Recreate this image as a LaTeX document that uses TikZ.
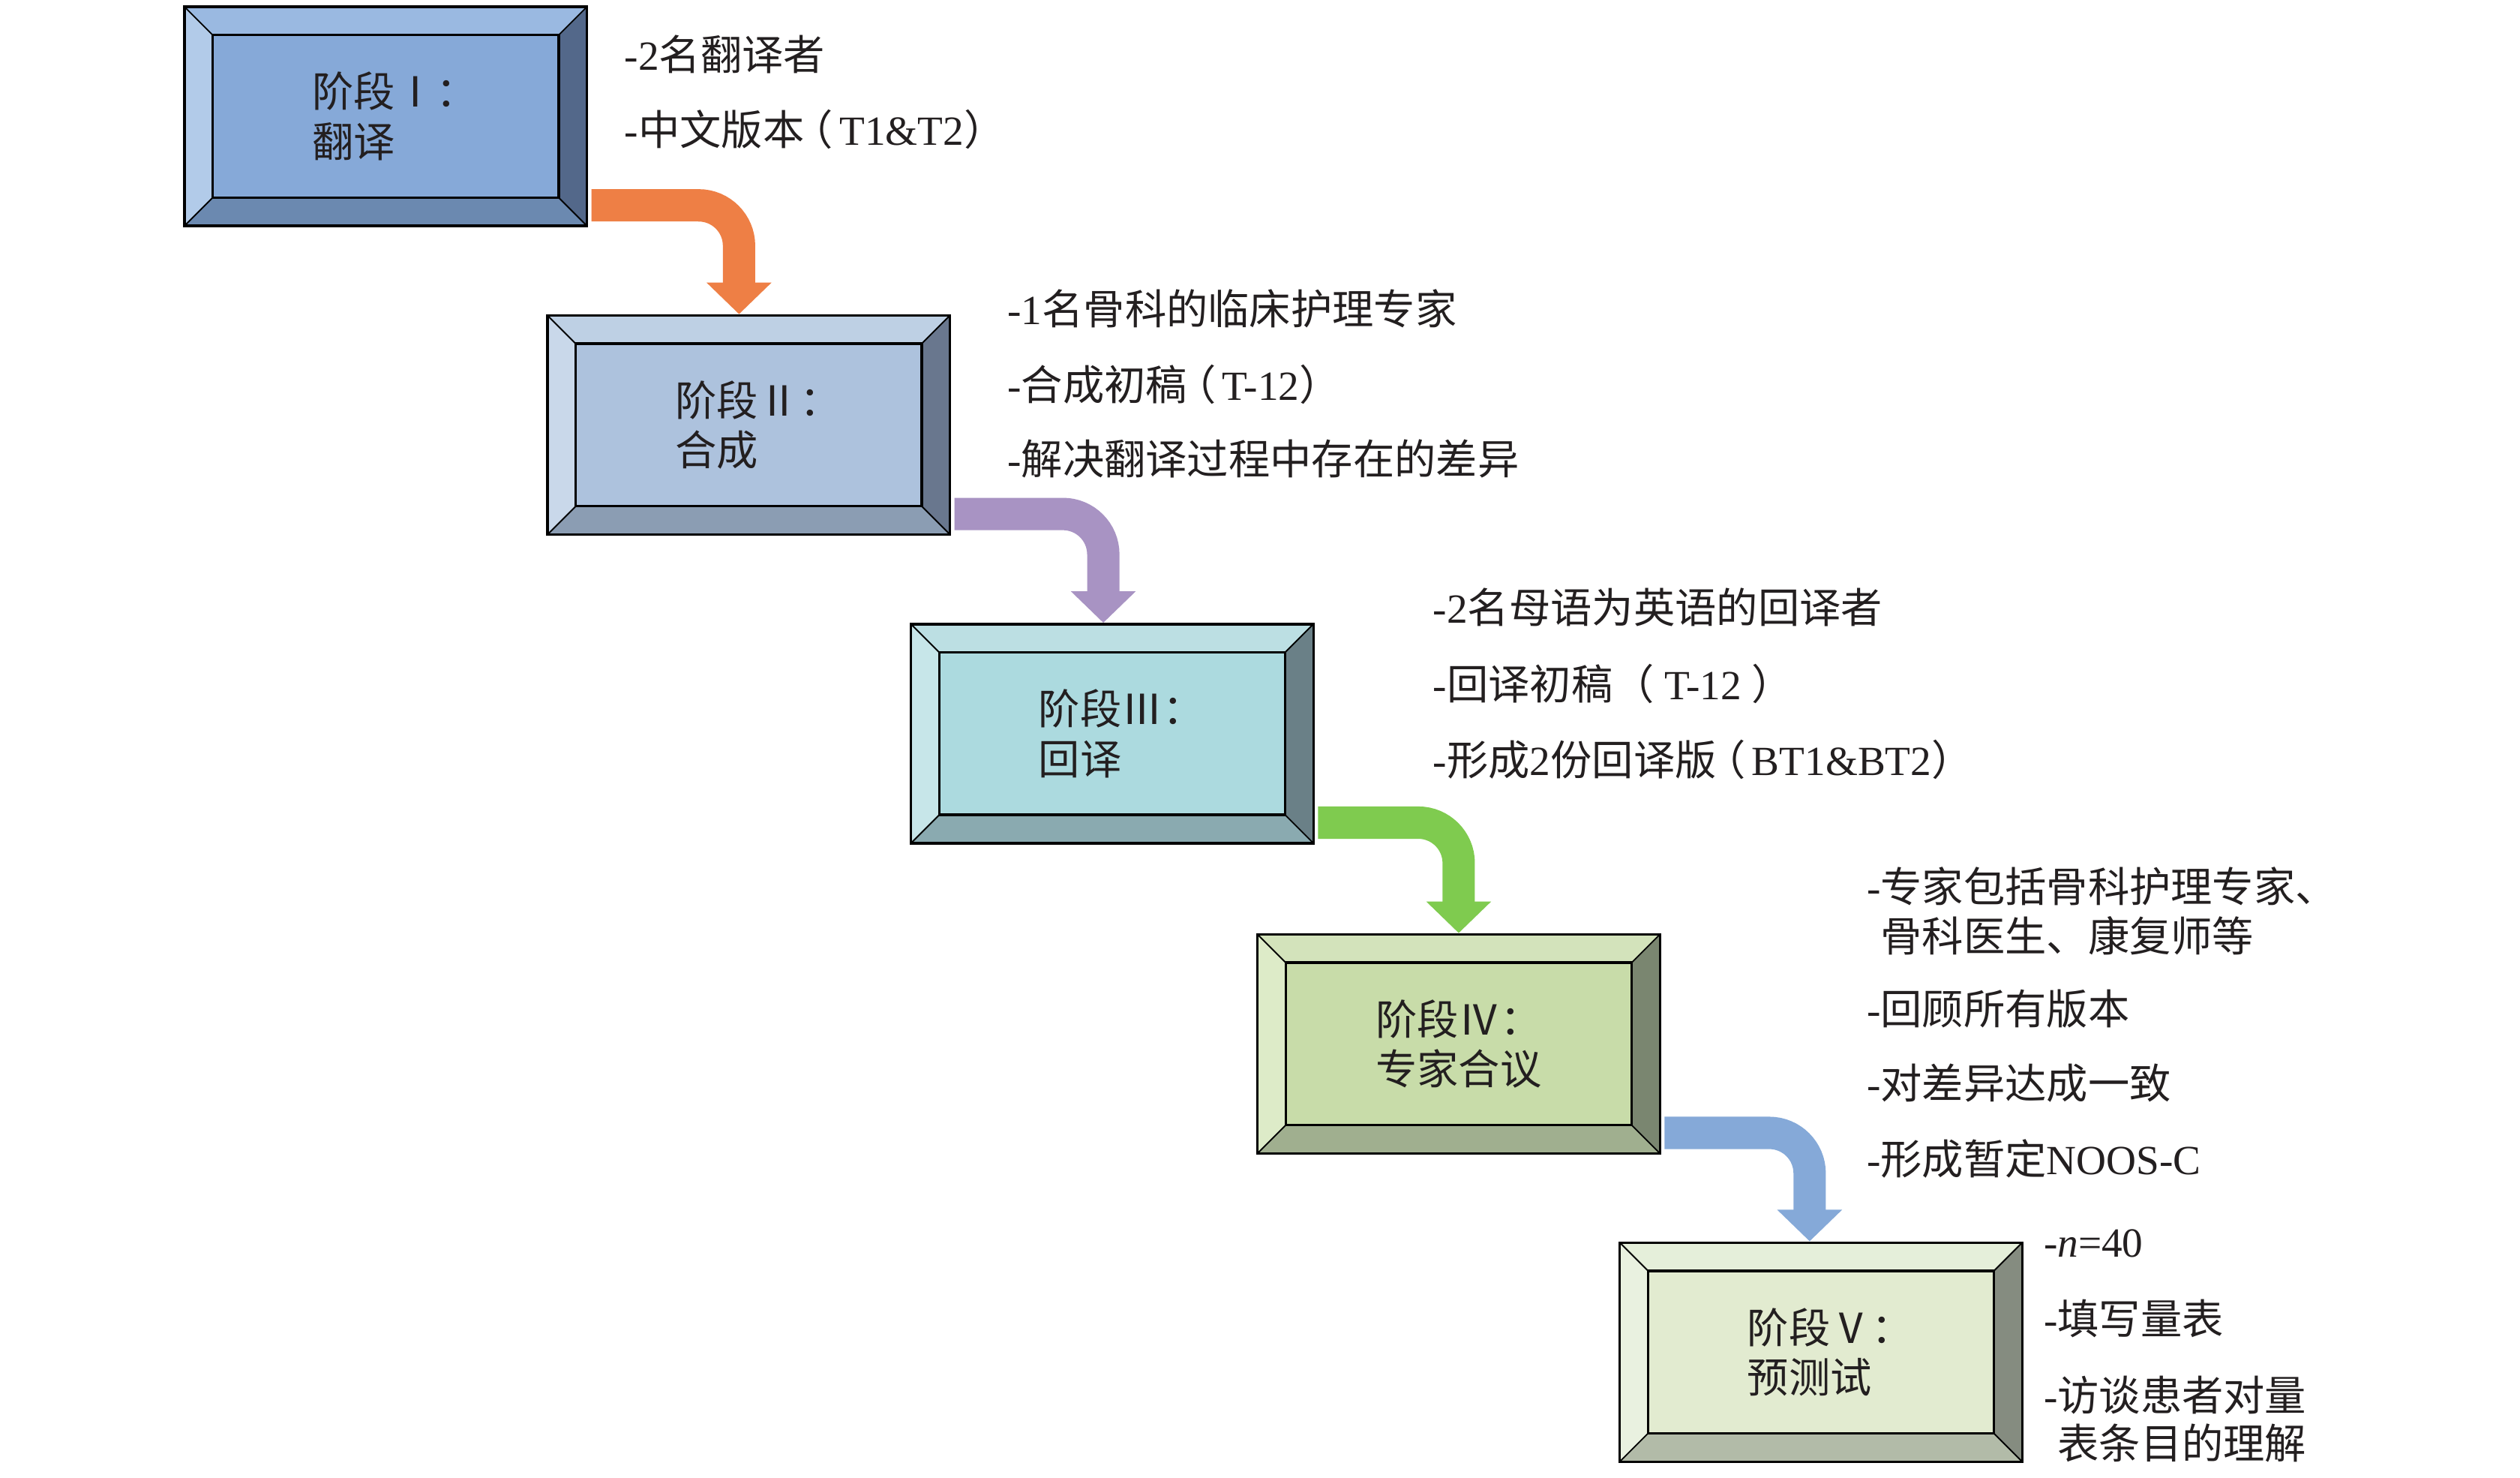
\documentclass[tikz,border=0pt]{standalone}
\usepackage{fontspec}
\setmainfont{Liberation Serif}
\newfontfamily\cjk{Noto Sans CJK SC}
\newcommand{\zh}[1]{{\cjk #1}}
\newcommand{\lp}{\kern-0.3em\zh{（}\kern0.15em}
\newcommand{\rp}{\zh{）}}
\usetikzlibrary{arrows.meta}

\definecolor{ink}{HTML}{231F20}
% stage colours: face, top, left, right, bottom
\definecolor{s1face}{HTML}{86A9D8}\definecolor{s1top}{HTML}{9AB9E1}\definecolor{s1lt}{HTML}{B2CBE9}\definecolor{s1rt}{HTML}{53688A}\definecolor{s1bot}{HTML}{6B89B0}
\definecolor{s2face}{HTML}{ADC2DD}\definecolor{s2top}{HTML}{BED0E4}\definecolor{s2lt}{HTML}{C9D8EA}\definecolor{s2rt}{HTML}{69778E}\definecolor{s2bot}{HTML}{8B9DB3}
\definecolor{s3face}{HTML}{ACDADF}\definecolor{s3top}{HTML}{BCDFE3}\definecolor{s3lt}{HTML}{C7E6E9}\definecolor{s3rt}{HTML}{6A8087}\definecolor{s3bot}{HTML}{8AAAB0}
\definecolor{s4face}{HTML}{C8DCA9}\definecolor{s4top}{HTML}{D3E3BB}\definecolor{s4lt}{HTML}{DDEBC8}\definecolor{s4rt}{HTML}{7A8670}\definecolor{s4bot}{HTML}{A0AF8F}
\definecolor{s5face}{HTML}{E2EBD0}\definecolor{s5top}{HTML}{E5EFDA}\definecolor{s5lt}{HTML}{E9F1E0}\definecolor{s5rt}{HTML}{858C80}\definecolor{s5bot}{HTML}{B2BBA8}
% arrows
\definecolor{a1}{HTML}{EE7F45}
\definecolor{a2}{HTML}{A893C3}
\definecolor{a3}{HTML}{7FCB4F}
\definecolor{a4}{HTML}{85A9D8}

\begin{document}
\begin{tikzpicture}[
		x=0.01cm, y=-0.01cm,
		every node/.style={font=\fontsize{7.3}{8.8}\selectfont, text=ink},
		stagebox/.style={draw=black, line width=0.45pt, fill=s#1face,
			minimum width=2.49cm, minimum height=1.355cm, inner sep=0pt, align=left,
			path picture={
				\coordinate (nw) at (path picture bounding box.north west);
				\coordinate (ne) at (path picture bounding box.north east);
				\coordinate (se) at (path picture bounding box.south east);
				\coordinate (sw) at (path picture bounding box.south west);
				\coordinate (inw) at ([shift={(17.5,17.5)}]nw);
				\coordinate (ine) at ([shift={(-17.5,17.5)}]ne);
				\coordinate (ise) at ([shift={(-17.5,-17.5)}]se);
				\coordinate (isw) at ([shift={(17.5,-17.5)}]sw);
				\fill[s#1top] (nw) -- (ne) -- (ine) -- (inw) -- cycle;
				\fill[s#1rt] (ne) -- (se) -- (ise) -- (ine) -- cycle;
				\fill[s#1bot] (se) -- (sw) -- (isw) -- (ise) -- cycle;
				\fill[s#1lt] (sw) -- (nw) -- (inw) -- (isw) -- cycle;
				\draw[line width=0.25pt] (nw) -- (inw) (ne) -- (ine) (se) -- (ise) (sw) -- (isw);
				\draw[line width=0.45pt] (inw) rectangle (ise);
			}},
		note/.style={anchor=base west, inner sep=0pt},
		flow/.style={line width=0.2cm, rounded corners=0.25cm, -{Triangle[width=0.39cm,length=0.195cm]}},
	]
	\path[use as bounding box, fill=white] (0,0) rectangle (1560,914.2);
	
	% stages
	\node[stagebox=1] (s1) at (238.75,72) {\hspace*{0.45em}\zh{阶段Ⅰ：}\\\hspace*{0.45em}\zh{翻译}};
	\node[stagebox=2] (s2) at (463.5,263) {\hspace*{0.45em}\zh{阶段Ⅱ：}\\\hspace*{0.45em}\zh{合成}};
	\node[stagebox=3] (s3) at (688.5,454) {\hspace*{0.45em}\zh{阶段Ⅲ：}\\\hspace*{0.45em}\zh{回译}};
	\node[stagebox=4] (s4) at (903,646) {\zh{阶段Ⅳ：}\\\zh{专家合议}};
	\node[stagebox=5] (s5) at (1127.25,836.75) {\hspace*{0.45em}\zh{阶段Ⅴ：}\\\hspace*{0.45em}\zh{预测试}};
	
	% flow between stages
	\draw[flow, color=a1] ([shift={(2,-13.5)}]s1.south east) -| ([shift={(-6,0)}]s2.north);
	\draw[flow, color=a2] ([shift={(2,-13.5)}]s2.south east) -| ([shift={(-5.5,0)}]s3.north);
	\draw[flow, color=a3] ([shift={(2,-13.5)}]s3.south east) -| (s4.north);
	\draw[flow, color=a4] ([shift={(2,-13.5)}]s4.south east) -| ([shift={(-7,0)}]s5.north);
	
	% notes
	\node[note] (t11) at (386,43.4) {-2\zh{名翻译者}};
	\node[note] (t12) at (386,89.8) {-\zh{中文版本}\lp T1\&T2\rp};
	
	\node[note] (t21) at (623,200.8) {-1\zh{名骨科的临床护理专家}};
	\node[note] (t22) at (623,247.5) {-\zh{合成初稿}\lp T-12\rp};
	\node[note] (t23) at (623,293.8) {-\zh{解决翻译过程中存在的差异}};
	
	\node[note] (t31) at (886.5,385.8) {-2\zh{名母语为英语的回译者}};
	\node[note] (t32) at (886.5,432.8) {-\zh{回译初稿（} T-12 \zh{）}};
	\node[note] (t33) at (886.5,479.8) {-\zh{形成}2\zh{份回译版}\lp BT1\&BT2\rp};
	
	\node[note] (t41) at (1155,558.4) {-\zh{专家包括骨科护理专家、}};
	\node[note] (t41b) at (1155,588.8) {\phantom{-}\zh{骨科医生、康复师等}};
	\node[note] (t42) at (1155,633.8) {-\zh{回顾所有版本}};
	\node[note] (t43) at (1155,679.8) {-\zh{对差异达成一致}};
	\node[note] (t44) at (1155,726.8) {-\zh{形成暂定}NOOS-C};
	
	\node[note] (t51) at (1264.5,777.8) {-\textit{n}=40};
	\node[note] (t52) at (1264.5,825.8) {-\zh{填写量表}};
	\node[note] (t53) at (1264.5,873.3) {-\zh{访谈患者对量}};
	\node[note] (t53b) at (1264.5,902.8) {\phantom{-}\zh{表条目的理解}};
	
\end{tikzpicture}
\end{document}
